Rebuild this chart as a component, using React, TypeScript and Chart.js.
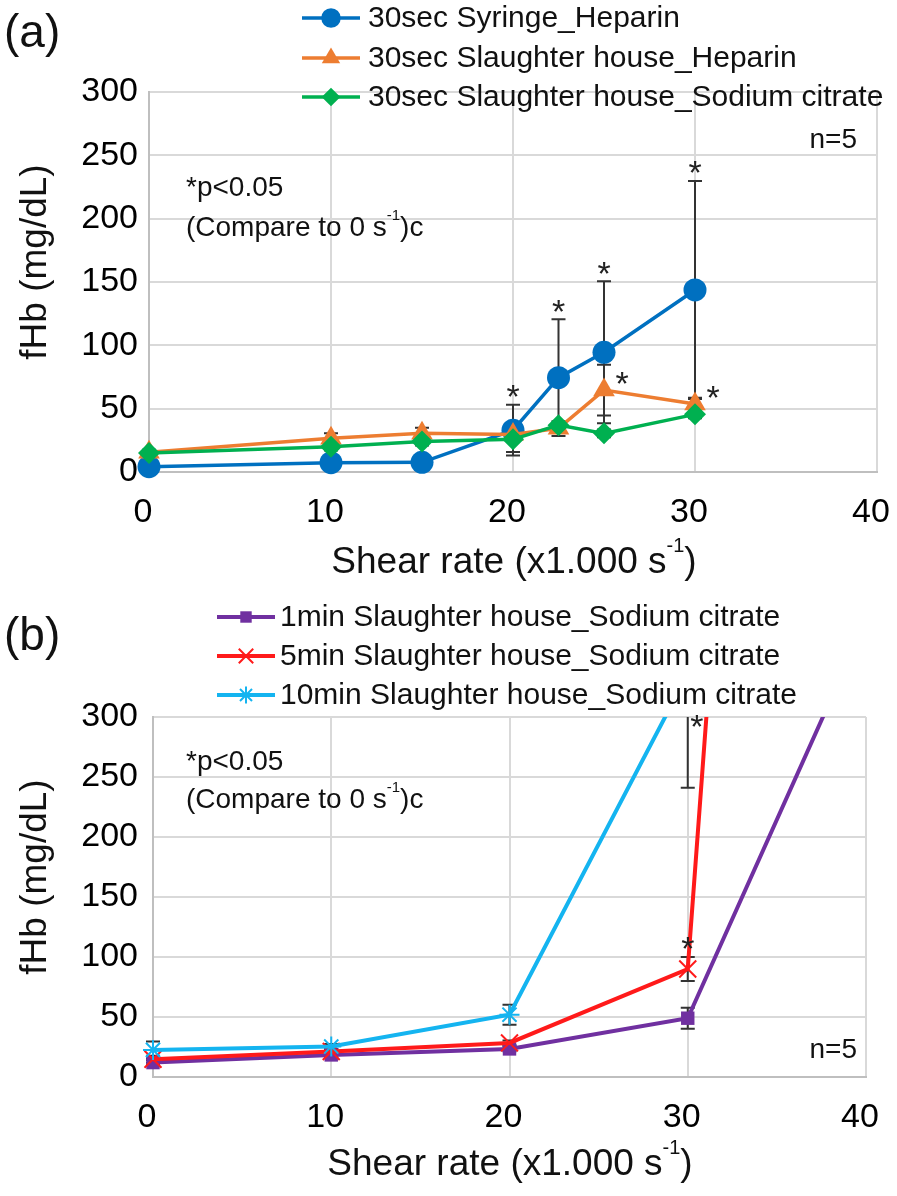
import { useEffect, useRef } from 'react';
import { Chart, registerables } from 'chart.js';
import { drawPoint } from 'chart.js/helpers';

Chart.register(...registerables);

const FONT = "'Liberation Sans', Arial, Helvetica, sans-serif";
const W = 897;
const H = 598;

// (a) 30 sec exposure, shear rate in x1000 1/s
const shearA = [0, 10, 15, 20, 22.5, 25, 30];
const syringeHeparin = [4.2, 7.4, 7.6, 33, 74.5, 94.5, 143.7];
const syringeHeparinSd = [2, 2, 2, 20, 46, 56, 86];
const slaughterHeparin = [15.5, 26.6, 30.5, 29.7, 34.5, 64.7, 53.7];
const slaughterHeparinSd = [2, 4, 4.5, 3, 3, 20, 5];
const slaughterCitrate30s = [15, 20, 24, 25.8, 37, 30.5, 45.5];
const slaughterCitrate30sSd = [1, 3, 3, 10, 3, 3, 3];

// (b) longer exposure, sodium citrate blood
const shearB = [0, 10, 20, 30, 40];
const citrate1min = [12, 18.4, 23.4, 49, 380];
const citrate1minSd = [2, 2, 2, 8.7, null];
const citrate5min = [14.8, 21.2, 28.4, 90, 2100];
const citrate5minSd = [3, 2, 2, 10, null];
const citrate10min = [22.6, 25.4, 51.9, 336];
const citrate10minSd = [7, 2, 8.4, 95];

const xTicksMax = 40;
const yTicksMax = 300;

type Series = {
  label: string;
  color: string;
  pointStyle: string;
  radius: number;
  pointBorder: number;
  lineWidth: number;
  x: number[];
  y: number[];
  sd: (number | null)[];
};

type Star = { series: number; index: number; place: 'top' | 'right' | 'edge' };

type PanelProps = {
  tag: string;
  series: Series[];
  stars: Star[];
  area: { left: number; top: number; right: number; bottom: number };
  legendX: number[];
  legendRows: number[];
  tagY: number;
  noteY: number[];
  nY: number;
  yTitleY: number;
  xTitlePos: number[];
};

function richText(ctx: CanvasRenderingContext2D, parts: [string, boolean][], x: number, y: number, size: number, align: 'left' | 'center') {
  const supSize = Math.round(size * 0.55);
  const widths = parts.map(([t, sup]) => {
    ctx.font = `${sup ? supSize : size}px ${FONT}`;
    return ctx.measureText(t).width;
  });
  const total = widths.reduce((a, b) => a + b, 0);
  let cx = align === 'center' ? x - total / 2 : x;
  ctx.textAlign = 'left';
  ctx.textBaseline = 'middle';
  parts.forEach(([t, sup], i) => {
    ctx.font = `${sup ? supSize : size}px ${FONT}`;
    ctx.fillText(t, cx, sup ? y - size * 0.45 : y);
    cx += widths[i];
  });
}

function Panel(p: PanelProps) {
  const ref = useRef<HTMLCanvasElement>(null);

  useEffect(() => {
    if (!ref.current) return;
    const { area } = p;

    const errorBars = {
      id: 'errorBars',
      beforeDatasetsDraw(chart: Chart) {
        const ctx = chart.ctx;
        const xs = chart.scales.x;
        const ys = chart.scales.y;
        const ca = chart.chartArea;
        ctx.save();
        ctx.beginPath();
        ctx.rect(ca.left - 20, ca.top, ca.right - ca.left + 20, ca.bottom - ca.top + 20);
        ctx.clip();
        ctx.strokeStyle = '#333';
        ctx.lineWidth = 2;
        p.series.forEach((s) => {
          s.y.forEach((v, i) => {
            const e = s.sd[i];
            if (!e) return;
            const px = xs.getPixelForValue(s.x[i]);
            const top = ys.getPixelForValue(v + e);
            const bot = ys.getPixelForValue(v - e);
            ctx.beginPath();
            ctx.moveTo(px, top);
            ctx.lineTo(px, bot);
            ctx.moveTo(px - 7, top);
            ctx.lineTo(px + 7, top);
            ctx.moveTo(px - 7, bot);
            ctx.lineTo(px + 7, bot);
            ctx.stroke();
          });
        });
        ctx.restore();
      },
      afterDatasetsDraw(chart: Chart) {
        const ctx = chart.ctx;
        const xs = chart.scales.x;
        const ys = chart.scales.y;
        const ca = chart.chartArea;
        const size = 34;
        ctx.save();
        ctx.fillStyle = '#222';
        ctx.font = `${size}px ${FONT}`;
        ctx.textAlign = 'center';
        ctx.textBaseline = 'alphabetic';
        p.stars.forEach((st) => {
          const s = p.series[st.series];
          const v = s.y[st.index];
          const e = s.sd[st.index] || 0;
          const px = xs.getPixelForValue(s.x[st.index]);
          let cx = px;
          let cy = ys.getPixelForValue(v + e) - 16;
          if (st.place === 'right') {
            cx = px + 18;
            cy = ys.getPixelForValue(v) - 14;
          } else if (st.place === 'edge') {
            cx = px + 9;
            cy = ca.top + 2;
          }
          ctx.fillText('*', cx, cy + size * 0.57);
        });
        ctx.restore();
      },
    };

    const decor = {
      id: 'decor',
      afterDraw(chart: Chart) {
        const ctx = chart.ctx;
        ctx.save();
        // legend
        const [lx1, lx2, tx] = p.legendX;
        p.series.forEach((s, i) => {
          const y = p.legendRows[i];
          ctx.strokeStyle = s.color;
          ctx.lineWidth = s.lineWidth;
          ctx.beginPath();
          ctx.moveTo(lx1, y);
          ctx.lineTo(lx2, y);
          ctx.stroke();
          ctx.fillStyle = s.color;
          ctx.strokeStyle = s.color;
          ctx.lineWidth = s.pointBorder;
          drawPoint(ctx, { pointStyle: s.pointStyle as any, radius: s.radius * 0.85, rotation: 0, borderWidth: s.pointBorder }, (lx1 + lx2) / 2, y);
          ctx.fillStyle = '#111';
          ctx.font = `30px ${FONT}`;
          ctx.textAlign = 'left';
          ctx.textBaseline = 'middle';
          ctx.fillText(s.label, tx, y + 1);
        });

        ctx.fillStyle = '#111';
        // panel tag
        ctx.font = `46px ${FONT}`;
        ctx.textAlign = 'left';
        ctx.textBaseline = 'middle';
        ctx.fillText(p.tag, 4, p.tagY);

        // significance note
        ctx.font = `28px ${FONT}`;
        ctx.fillText('*p<0.05', 186, p.noteY[0]);
        richText(ctx, [['(Compare to 0 s', false], ['-1', true], [')c', false]], 186, p.noteY[1], 28, 'left');

        // sample size
        ctx.font = `28px ${FONT}`;
        ctx.textAlign = 'right';
        ctx.fillText('n=5', 857, p.nY);

        // axis titles
        richText(ctx, [['Shear rate (x1.000 s', false], ['-1', true], [')', false]], p.xTitlePos[0], p.xTitlePos[1], 37, 'center');
        ctx.translate(36, p.yTitleY);
        ctx.rotate(-Math.PI / 2);
        ctx.font = `37px ${FONT}`;
        ctx.textAlign = 'center';
        ctx.textBaseline = 'middle';
        ctx.fillText('fHb (mg/dL)', 0, 0);
        ctx.restore();
      },
    };

    const tickFont = { family: FONT, size: 34 };
    const grid = { color: '#d9d9d9', lineWidth: 2, drawTicks: false };
    const border = { color: '#bfbfbf', width: 2 };

    const chart = new Chart(ref.current, {
      type: 'line',
      data: {
        datasets: p.series.map((s, i) => ({
          label: s.label,
          data: s.y.map((y, j) => ({ x: s.x[j], y })),
          borderColor: s.color,
          backgroundColor: s.color,
          borderWidth: s.lineWidth,
          pointStyle: s.pointStyle as any,
          pointRadius: s.radius,
          pointBackgroundColor: s.color,
          pointBorderColor: s.color,
          pointBorderWidth: s.pointBorder,
          tension: 0,
          order: -i,
          clip: { left: 20, top: 0, right: 0, bottom: 20 },
        })),
      },
      options: {
        responsive: false,
        animation: false,
        layout: { padding: { left: 0, top: area.top, right: W - area.right, bottom: 0 } },
        plugins: { legend: { display: false }, tooltip: { enabled: false } },
        scales: {
          x: {
            type: 'linear',
            min: 0,
            max: xTicksMax,
            ticks: { stepSize: 10, padding: 20, labelOffset: -6, font: tickFont, color: '#000' },
            grid,
            border,
            afterFit: (s: any) => {
              s.height = H - area.bottom;
              s.paddingLeft = 0;
              s.paddingRight = 0;
            },
          },
          y: {
            min: 0,
            max: yTicksMax,
            ticks: { stepSize: 50, padding: area.left - 138, font: tickFont, color: '#000' },
            grid,
            border,
            afterFit: (s: any) => {
              s.width = area.left;
              s.paddingTop = 0;
              s.paddingBottom = 0;
            },
          },
        },
      },
      plugins: [errorBars, decor],
    });

    return () => chart.destroy();
  }, []);

  return <canvas ref={ref} width={W} height={H} style={{ display: 'block' }} />;
}

const seriesA: Series[] = [
  { label: '30sec Syringe_Heparin', color: '#0070c0', pointStyle: 'circle', radius: 11.5, pointBorder: 0, lineWidth: 3.5, x: shearA, y: syringeHeparin, sd: syringeHeparinSd },
  { label: '30sec Slaughter house_Heparin', color: '#ed7d31', pointStyle: 'triangle', radius: 12.5, pointBorder: 0, lineWidth: 3.5, x: shearA, y: slaughterHeparin, sd: slaughterHeparinSd },
  { label: '30sec Slaughter house_Sodium citrate', color: '#00b050', pointStyle: 'rectRot', radius: 11, pointBorder: 0, lineWidth: 3.5, x: shearA, y: slaughterCitrate30s, sd: slaughterCitrate30sSd },
];

const seriesB: Series[] = [
  { label: '1min Slaughter house_Sodium citrate', color: '#7030a0', pointStyle: 'rect', radius: 9.5, pointBorder: 0, lineWidth: 4, x: shearB, y: citrate1min, sd: citrate1minSd },
  { label: '5min Slaughter house_Sodium citrate', color: '#ff1a1a', pointStyle: 'crossRot', radius: 12, pointBorder: 2, lineWidth: 4, x: shearB, y: citrate5min, sd: citrate5minSd },
  { label: '10min Slaughter house_Sodium citrate', color: '#14b4f0', pointStyle: 'star', radius: 10, pointBorder: 2, lineWidth: 4, x: shearB, y: citrate10min, sd: citrate10minSd },
];

const starsA: Star[] = [
  { series: 0, index: 3, place: 'top' },
  { series: 0, index: 4, place: 'top' },
  { series: 0, index: 5, place: 'top' },
  { series: 0, index: 6, place: 'top' },
  { series: 1, index: 5, place: 'right' },
  { series: 1, index: 6, place: 'right' },
];

const starsB: Star[] = [
  { series: 1, index: 3, place: 'top' },
  { series: 2, index: 3, place: 'edge' },
];

export default function App() {
  return (
    <div style={{ position: 'absolute', left: 0, top: 0, width: W, height: H * 2, background: '#fff' }}>
      <Panel
        tag="(a)"
        series={seriesA}
        stars={starsA}
        area={{ left: 149, top: 92, right: 877, bottom: 472 }}
        legendX={[302, 360, 368]}
        legendRows={[18, 58, 97]}
        tagY={34}
        noteY={[188, 228]}
        nY={140}
        yTitleY={262}
        xTitlePos={[514, 563]}
      />
      <Panel
        tag="(b)"
        series={seriesB}
        stars={starsB}
        area={{ left: 153, top: 119, right: 866, bottom: 479 }}
        legendX={[217, 275, 280]}
        legendRows={[19, 58, 97]}
        tagY={39}
        noteY={[164, 202]}
        nY={452}
        yTitleY={279}
        xTitlePos={[510, 567]}
      />
    </div>
  );
}
